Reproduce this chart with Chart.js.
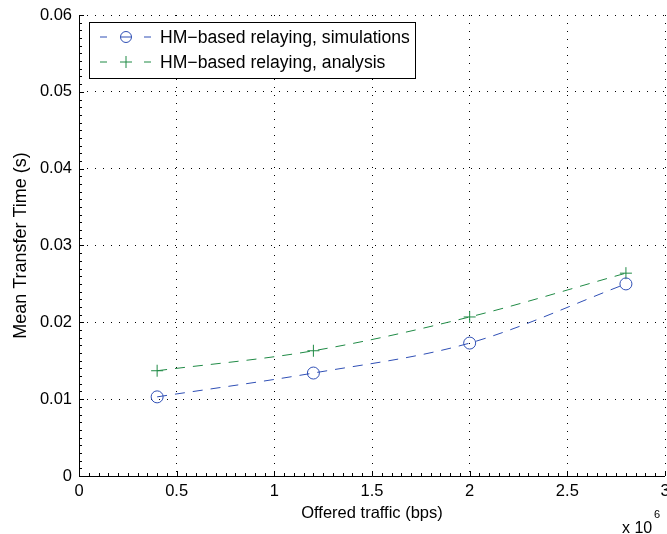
<!DOCTYPE html>
<html>
<head>
<meta charset="utf-8">
<script src="https://cdn.jsdelivr.net/npm/chart.js@4"></script>
<style>
  html, body { margin: 0; padding: 0; background: #fff; }
  #wrap { width: 667px; height: 534px; }
</style>
</head>
<body>
<div id="wrap"><canvas id="c" width="667" height="534"></canvas></div>
<script>
// data
const trafficBps = [0.4e6, 1.2e6, 2.0e6, 2.8e6];
const simTime = [0.0103, 0.0134, 0.0173, 0.0250];
const anaTime = [0.0137, 0.0163, 0.0207, 0.0264];
const xTickLabels = ['0', '0.5', '1', '1.5', '2', '2.5', '3'];
const yTickLabels = ['0', '0.01', '0.02', '0.03', '0.04', '0.05', '0.06'];
const seriesNames = ['HM\u2212based relaying, simulations', 'HM\u2212based relaying, analysis'];

const BLUE = '#2f4fb5';
const GREEN = '#1f8a45';
const FONT = '"Liberation Sans", Arial, sans-serif';

// inward major/minor ticks, matlab style
const axisTicks = {
  id: 'axisTicks',
  afterDraw(chart) {
    const { ctx, chartArea: a, scales: { x, y } } = chart;
    ctx.save();
    ctx.strokeStyle = '#000';
    ctx.lineWidth = 1;
    ctx.beginPath();
    for (let v = 0; v <= 3e6 + 1; v += 0.05e6) {
      const px = Math.round(x.getPixelForValue(v)) + 0.5;
      const major = Math.abs(v / 0.5e6 - Math.round(v / 0.5e6)) < 1e-6;
      const len = major ? 5 : 3;
      ctx.moveTo(px, a.bottom); ctx.lineTo(px, a.bottom - len);
    }
    for (let v = 0; v <= 0.06 + 1e-9; v += 0.001) {
      const py = Math.round(y.getPixelForValue(v)) + 0.5;
      const major = Math.abs(v / 0.01 - Math.round(v / 0.01)) < 1e-6;
      const len = major ? 5 : 3;
      ctx.moveTo(a.left, py); ctx.lineTo(a.left + len, py);
    }
    ctx.stroke();
    // axis lines
    ctx.beginPath();
    ctx.moveTo(a.left + 0.5, a.top); ctx.lineTo(a.left + 0.5, a.bottom + 0.5);
    ctx.lineTo(a.right, a.bottom + 0.5);
    ctx.stroke();
    // exponent label
    ctx.fillStyle = '#000';
    ctx.font = '16px ' + FONT;
    ctx.textAlign = 'left';
    ctx.textBaseline = 'alphabetic';
    ctx.fillText('x 10', 622, 533);
    ctx.font = '11px ' + FONT;
    ctx.fillText('6', 654, 518);
    ctx.restore();
  }
};

// legend box inside the axes
const boxLegend = {
  id: 'boxLegend',
  afterDraw(chart) {
    const { ctx } = chart;
    const left = 89, top = 22, w = 326, h = 56;
    ctx.save();
    ctx.fillStyle = '#fff';
    ctx.fillRect(left, top, w, h);
    ctx.strokeStyle = '#000';
    ctx.lineWidth = 1;
    ctx.strokeRect(left + 0.5, top + 0.5, w, h);
    chart.data.datasets.forEach((ds, i) => {
      const cy = top + 15 + i * 25;
      ctx.strokeStyle = ds.borderColor;
      ctx.lineWidth = 1;
      ctx.beginPath();
      ctx.moveTo(100, cy); ctx.lineTo(107, cy);
      ctx.moveTo(144, cy); ctx.lineTo(151, cy);
      ctx.stroke();
      ctx.beginPath();
      if (ds.pointStyle === 'circle') {
        ctx.arc(126, cy, 5.5, 0, Math.PI * 2);
        ctx.moveTo(120.5, cy); ctx.lineTo(131.5, cy);
      } else {
        ctx.moveTo(120, cy); ctx.lineTo(132, cy);
        ctx.moveTo(126, cy - 6); ctx.lineTo(126, cy + 6);
      }
      ctx.stroke();
      ctx.fillStyle = '#000';
      ctx.font = '17.6px ' + FONT;
      ctx.textBaseline = 'middle';
      ctx.fillText(seriesNames[i], 160, cy + 1);
    });
    ctx.restore();
  }
};

const toPoints = (ys) => trafficBps.map((x, i) => ({ x, y: ys[i] }));

new Chart(document.getElementById('c'), {
  type: 'scatter',
  data: {
    datasets: [
      {
        label: seriesNames[0],
        data: toPoints(simTime),
        showLine: true,
        borderColor: BLUE,
        backgroundColor: 'transparent',
        borderWidth: 1,
        borderDash: [10, 8],
        tension: 0.4,
        cubicInterpolationMode: 'monotone',
        pointStyle: 'circle',
        pointRadius: 6,
        pointBorderWidth: 1,
        pointBorderColor: BLUE,
        pointBackgroundColor: 'transparent'
      },
      {
        label: seriesNames[1],
        data: toPoints(anaTime),
        showLine: true,
        borderColor: GREEN,
        backgroundColor: 'transparent',
        borderWidth: 1,
        borderDash: [10, 8],
        tension: 0.4,
        cubicInterpolationMode: 'monotone',
        pointStyle: 'cross',
        pointRadius: 6,
        pointBorderWidth: 1,
        pointBorderColor: GREEN,
        pointBackgroundColor: GREEN
      }
    ]
  },
  options: {
    responsive: false,
    animation: false,
    layout: { autoPadding: false, padding: { left: 0, right: 2, top: 15, bottom: 0 } },
    plugins: { legend: { display: false }, tooltip: { enabled: false } },
    scales: {
      x: {
        type: 'linear', min: 0, max: 3e6,
        afterBuildTicks(s) { s.ticks = xTickLabels.map((_, i) => ({ value: i * 0.5e6 })); },
        afterFit(s) { s.height = 58; s.paddingRight = 0; s.paddingLeft = 0; },
        ticks: {
          color: '#000', font: { family: FONT, size: 16.5 }, padding: 6, maxRotation: 0,
          callback: (v, i) => xTickLabels[i]
        },
        grid: { color: '#000', lineWidth: 1, drawTicks: false, tickLength: 0 },
        border: { display: false, dash: [1, 7] },
        title: { display: true, text: 'Offered traffic (bps)', color: '#000', font: { family: FONT, size: 16.5 }, padding: { top: 0, bottom: 11 } }
      },
      y: {
        type: 'linear', min: 0, max: 0.06,
        afterBuildTicks(s) { s.ticks = yTickLabels.map((_, i) => ({ value: i * 0.01 })); },
        afterFit(s) { s.width = 79; s.paddingTop = 0; s.paddingBottom = 0; },
        ticks: {
          color: '#000', font: { family: FONT, size: 16.5 }, padding: 7,
          callback: (v, i) => yTickLabels[i]
        },
        grid: { color: '#000', lineWidth: 1, drawTicks: false, tickLength: 0 },
        border: { display: false, dash: [1, 7] },
        title: { display: true, text: 'Mean Transfer Time (s)', color: '#000', font: { family: FONT, size: 18 }, padding: { top: 10, bottom: 2 } }
      }
    }
  },
  plugins: [axisTicks, boxLegend]
});
</script>
</body>
</html>
